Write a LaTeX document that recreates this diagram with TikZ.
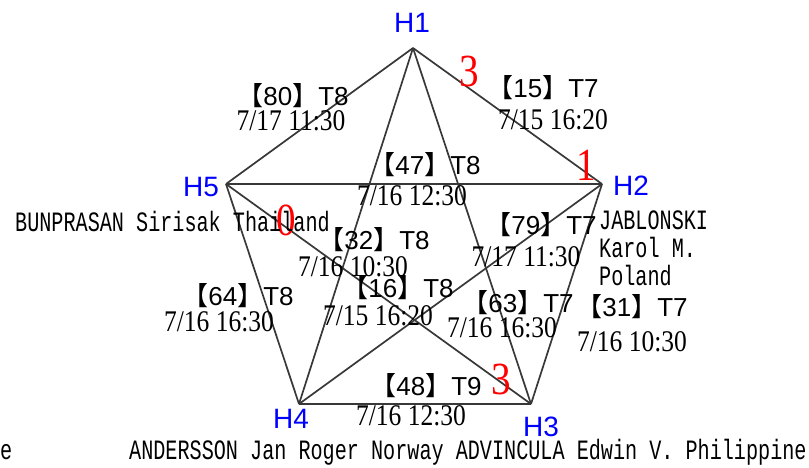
\documentclass[tikz,border=0pt]{standalone}
\usepackage{fontspec}
\setmainfont{Liberation Serif}
\newfontfamily\hfont{Liberation Sans}
\newfontfamily\cjkfont{Noto Sans CJK SC}
\newfontfamily\datefont{Liberation Serif}[FakeStretch=0.85]
\newfontfamily\namefont{Liberation Mono}[FakeStretch=0.72]
\usetikzlibrary{positioning}
\tikzset{
	edge/.style={draw=black!78, line width=1.7pt},
	hub/.style={text=blue, inner sep=0pt, font=\hfont\fontsize{28}{28}\selectfont},
	bout/.style={inner sep=0pt, font=\hfont\fontsize{26}{26}\selectfont},
	when/.style={inner sep=0pt, font=\datefont\fontsize{30}{30}\selectfont},
	score/.style={text=red, inner sep=0pt, font=\datefont\fontsize{46}{46}\selectfont},
	who/.style={inner sep=0pt, anchor=west, align=left, font=\namefont\fontsize{28}{28}\selectfont}
}
\newcommand{\fight}[2]{{\cjkfont【}#1{\cjkfont】}#2}

\begin{document}
\begin{tikzpicture}[x=1pt,y=-1pt]
	\useasboundingbox (0,0) rectangle (809,468);
	% the five players
	\coordinate (h1) at (413,48);
	\coordinate (h2) at (602,184);
	\coordinate (h3) at (531,404);
	\coordinate (h4) at (299,404);
	\coordinate (h5) at (226,184);
	\node[hub] (l1) at (412,23) {H1};
	\node[hub] (l2) at (631,186) {H2};
	\node[hub] (l3) at (541,427) {H3};
	\node[hub] (l4) at (291,419) {H4};
	\node[hub] (l5) at (201,187) {H5};

	% games
	\draw[edge] (h1) -- (h2);
	\draw[edge] (h1) -- (h5);
	\draw[edge] (h5) -- (h2);
	\draw[edge] (h1) -- (h4);
	\draw[edge] (h1) -- (h3);
	\draw[edge] (h2) -- (h4);
	\draw[edge] (h2) -- (h3);
	\draw[edge] (h5) -- (h3);
	\draw[edge] (h5) -- (h4);
	\draw[edge] (h4) -- (h3);

	\node[bout] (b80) at (293,96) {\fight{80}{T8}};
	\node[when] (d80) at (291,121) {7/17 11:30};
	\node[bout] (b15) at (543,88) {\fight{15}{T7}};
	\node[when] (d15) at (553,120) {7/15 16:20};
	\node[bout] (b47) at (425,165) {\fight{47}{T8}};
	\node[when] (d47) at (412,196) {7/16 12:30};
	\node[bout] (b79) at (541,225) {\fight{79}{T7}};
	\node[when] (d79) at (526,257) {7/17 11:30};
	\node[bout] (b32) at (374,240) {\fight{32}{T8}};
	\node[when] (d32) at (353,267) {7/16 10:30};
	\node[bout] (b16) at (398,288) {\fight{16}{T8}};
	\node[when] (d16) at (378,316) {7/15 16:20};
	\node[bout] (b64) at (238,296) {\fight{64}{T8}};
	\node[when] (d64) at (219,322) {7/16 16:30};
	\node[bout] (b63) at (518,303) {\fight{63}{T7}};
	\node[when] (d63) at (502,328) {7/16 16:30};
	\node[bout] (b31) at (632,307) {\fight{31}{T7}};
	\node[when] (d31) at (632,342) {7/16 10:30};
	\node[bout] (b48) at (426,386) {\fight{48}{T9}};
	\node[when] (d48) at (411,416) {7/16 12:30};

	% points
	\node[score] (s1) at (469,71) {3};
	\node[score] (s2) at (586,165) {1};
	\node[score] (s3) at (286,220) {0};
	\node[score] (s4) at (501,379) {3};

	% names
	\node[who] (n5) at (15,222) {BUNPRASAN Sirisak Thailand};
	\node[who] (n2) at (599,248) {JABLONSKI\\Karol M.\\Poland};
	\node[who] (n0) at (0,452) {e};
	\node[who] (n4) at (129,452) {ANDERSSON Jan Roger Norway ADVINCULA Edwin V. Philippine};
\end{tikzpicture}
\end{document}
